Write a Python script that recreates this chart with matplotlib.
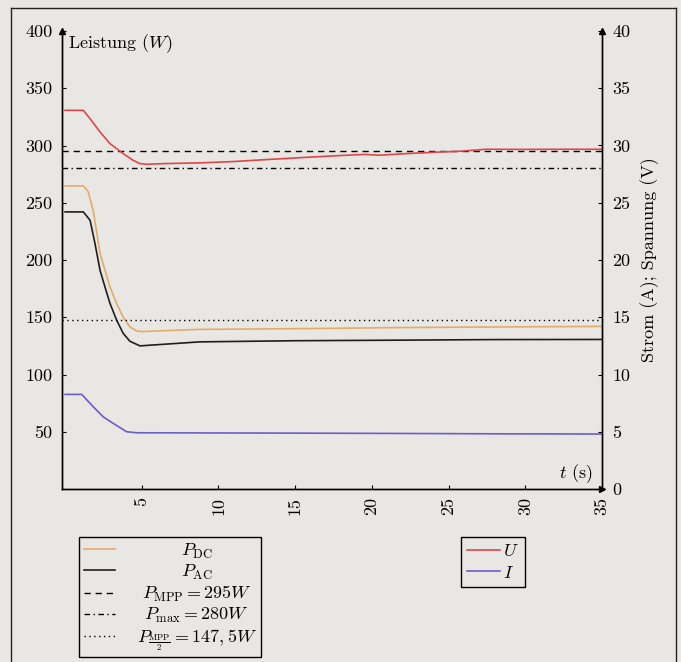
import matplotlib
matplotlib.use('Agg')
import matplotlib.pyplot as plt
from matplotlib.lines import Line2D

plt.rcParams['font.family'] = 'serif'
plt.rcParams['font.serif'] = ['cmr10']
plt.rcParams['mathtext.fontset'] = 'cm'
plt.rcParams['axes.formatter.use_mathtext'] = True
plt.rcParams['axes.unicode_minus'] = False

# ---------------- data ----------------
t_dc = [0, 1.19, 1.5, 1.84, 2.28, 2.93, 3.36, 3.79, 4.23, 4.66, 5.0, 8.78, 15, 22, 28, 35]
p_dc = [264.7, 264.7, 260, 243, 205.6, 176.5, 162, 150, 141.6, 138, 137.5, 139.4, 140, 141, 141.5, 142]

t_ac = [0, 1.19, 1.63, 1.95, 2.28, 2.60, 2.93, 3.36, 3.79, 4.23, 4.88, 8.78, 15, 22, 28, 35]
p_ac = [242, 242, 234.7, 214.4, 191, 176.5, 162, 147.5, 135.9, 129, 125, 128.5, 129.5, 130, 130.5, 130.6]

t_u = [0, 1.19, 1.63, 2.28, 2.93, 3.79, 4.44, 4.88, 5.32, 6.5, 8.78, 11, 13.12, 15.5,
       17.89, 19.5, 20.5, 22.23, 24.4, 25.5, 27.44, 30, 32.5, 35]
u_v = [33.07, 33.07, 32.34, 31.18, 30.16, 29.29, 28.7, 28.42, 28.36, 28.42, 28.48, 28.6, 28.77, 28.95,
       29.12, 29.22, 29.15, 29.29, 29.43, 29.48, 29.67, 29.66, 29.67, 29.67]

t_i = [0, 1.09, 1.84, 2.49, 3.14, 4.01, 4.66, 8, 15, 22, 28, 35]
i_a = [8.26, 8.26, 7.18, 6.3, 5.73, 5.0, 4.91, 4.9, 4.88, 4.85, 4.82, 4.8]

p_mpp = 295
p_max = 280
p_half = 147.5

x_ticks = [5, 10, 15, 20, 25, 30, 35]
y_ticks_left = [50, 100, 150, 200, 250, 300, 350, 400]
y_ticks_right = [0, 5, 10, 15, 20, 25, 30, 35, 40]

labels_left = [r'$P_{\rm DC}$', r'$P_{\rm AC}$', r'$P_{\rm MPP} = 295W$',
               r'$P_{\max} = 280W$', r'$P_{\frac{\rm MPP}{2}} = 147,5W$']
labels_right = [r'$U$', r'$I$']

# ---------------- style ----------------
BG = '#e9e7e3'
C_DC = '#e2ac68'
C_AC = '#1e1e1e'
C_U = '#e0454a'
C_I = '#6a5ec8'
FS = 13
LW = 1.2

fig = plt.figure(figsize=(6.81, 6.62), dpi=100, facecolor=BG)
ax = fig.add_axes([62/681, 1-489/662, 540/681, 458/662])
ax.set_facecolor('none')
ax2 = ax.twinx()
ax2.set_facecolor('none')

l_dc, = ax.plot(t_dc, p_dc, color=C_DC, lw=LW)
l_ac, = ax.plot(t_ac, p_ac, color=C_AC, lw=LW)
l_mpp = ax.axhline(p_mpp, color='k', lw=1.0, ls=(0, (4.5, 3.5)))
l_max = ax.axhline(p_max, color='k', lw=1.0, ls=(0, (4, 2.5, 1, 2.5)))
l_half = ax.axhline(p_half, color='k', lw=1.0, ls=(0, (1, 2.5)))

l_u, = ax2.plot(t_u, u_v, color=C_U, lw=LW)
l_i, = ax2.plot(t_i, i_a, color=C_I, lw=LW)

ax.set_xlim(-0.2, 35)
ax.set_ylim(0, 400)
ax2.set_ylim(0, 40)

ax.set_xticks(x_ticks)
ax.set_xticklabels([str(v) for v in x_ticks], rotation=90, fontsize=FS)
ax.set_yticks(y_ticks_left)
ax.set_yticklabels([str(v) for v in y_ticks_left], fontsize=FS)
ax2.set_yticks(y_ticks_right)
ax2.set_yticklabels([str(v) for v in y_ticks_right], fontsize=FS)

ax.tick_params(axis='x', direction='in', length=3, width=0.8, pad=5.5)
ax.tick_params(axis='y', direction='in', length=3, width=0.8, pad=7)
ax2.tick_params(axis='y', direction='in', length=3, width=0.8, pad=7.5)

for a in (ax, ax2):
    a.spines['top'].set_visible(False)
    for s in ('left', 'right', 'bottom'):
        a.spines[s].set_linewidth(1.0)

# axis arrows
ax.plot([0], [1], marker='^', ms=4, color='k', transform=ax.transAxes, clip_on=False)
ax.plot([1], [1], marker='^', ms=4, color='k', transform=ax.transAxes, clip_on=False)
ax.plot([1], [0], marker='>', ms=4, color='k', transform=ax.transAxes, clip_on=False)

ax.text(0.011, 0.963, r'Leistung ($W$)', transform=ax.transAxes, fontsize=FS,
        ha='left', va='baseline')
ax.text(0.983, 0.024, r'$t$ (s)', transform=ax.transAxes, fontsize=FS,
        ha='right', va='baseline')
ax2.set_ylabel('Strom (A); Spannung (V)', fontsize=FS)
ax2.yaxis.set_label_coords(1.07, 0.5)

# legends
leg1 = fig.legend([l_dc, l_ac, l_mpp, l_max, l_half], labels_left,
                  loc='upper left', bbox_to_anchor=(79/681, 1-537/662),
                  fontsize=FS, frameon=True, fancybox=False, edgecolor='black',
                  facecolor=BG, framealpha=1, borderpad=0.25, labelspacing=0.12,
                  handlelength=1.75, handletextpad=1.2, borderaxespad=0)
leg1.get_frame().set_linewidth(1.0)
leg2 = fig.legend([l_u, l_i], labels_right,
                  loc='upper left', bbox_to_anchor=(461/681, 1-537/662),
                  fontsize=FS, frameon=True, fancybox=False, edgecolor='black',
                  facecolor=BG, framealpha=1, borderpad=0.35, labelspacing=0.3,
                  handlelength=1.8, handletextpad=0.15, borderaxespad=0)
leg2.get_frame().set_linewidth(1.0)

# page frame
for xs, ys in (([11/681, 11/681], [0, 1-8/662]),
               ([11/681, 676/681], [1-8/662, 1-8/662]),
               ([676/681, 676/681], [1-8/662, 0])):
    fig.add_artist(Line2D(xs, ys, transform=fig.transFigure, color='#222222', lw=1.0))

# center the texts of the left legend
fig.canvas.draw()
r = fig.canvas.get_renderer()
texts = leg1.get_texts()
ws = [tx.get_window_extent(r).width for tx in texts]
W = max(ws)
for tx, w in zip(texts, ws):
    tx.set_x((W - w) / 2)

fig.savefig('out.png', dpi=100, facecolor=BG)
